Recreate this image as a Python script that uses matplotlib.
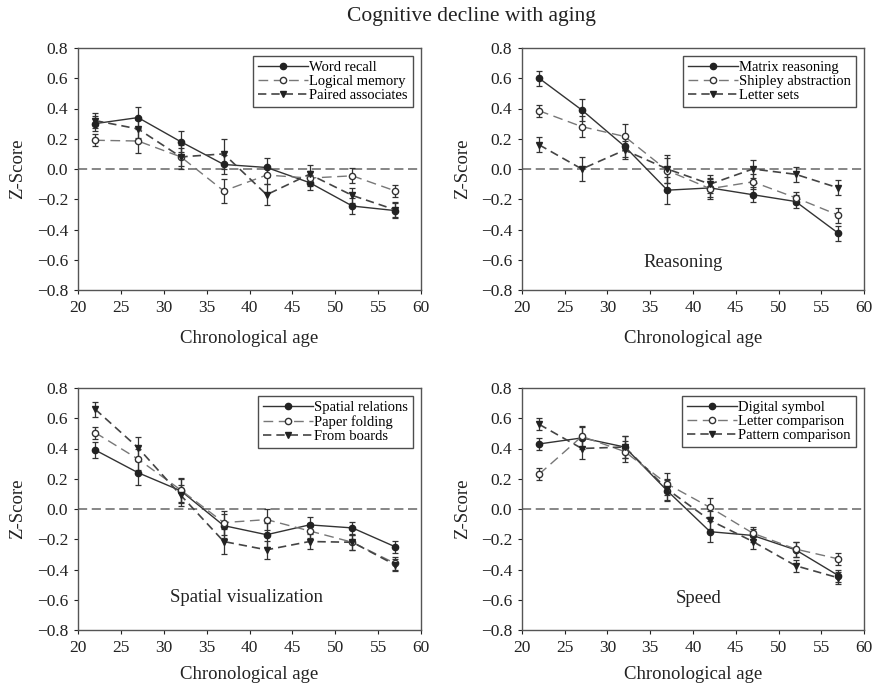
import matplotlib
matplotlib.use("Agg")
import matplotlib.pyplot as plt
from matplotlib.ticker import FuncFormatter
from matplotlib.lines import Line2D

plt.rcParams['font.family'] = ['Liberation Serif', 'DejaVu Serif']

ages = [22, 27, 32, 37, 42, 47, 52, 57]

title = "Cognitive decline with aging"
xlabel = "Chronological age"
ylabel = "Z-Score"

# Panel 1: memory
mem_names = ["Word recall", "Logical memory", "Paired associates"]
mem_word = [0.30, 0.34, 0.18, 0.03, 0.01, -0.09, -0.245, -0.275]
mem_word_err = [0.05, 0.07, 0.07, 0.06, 0.06, 0.05, 0.05, 0.05]
mem_logic = [0.19, 0.185, 0.08, -0.145, -0.04, -0.06, -0.045, -0.145]
mem_logic_err = [0.04, 0.08, 0.06, 0.08, 0.06, 0.05, 0.05, 0.04]
mem_paired = [0.32, 0.265, 0.08, 0.10, -0.17, -0.035, -0.175, -0.27]
mem_paired_err = [0.05, 0.06, 0.08, 0.10, 0.07, 0.06, 0.05, 0.05]

# Panel 2: reasoning
rea_names = ["Matrix reasoning", "Shipley abstraction", "Letter sets"]
rea_matrix = [0.60, 0.39, 0.15, -0.14, -0.125, -0.17, -0.215, -0.425]
rea_matrix_err = [0.05, 0.07, 0.07, 0.09, 0.06, 0.05, 0.04, 0.05]
rea_shipley = [0.385, 0.28, 0.215, -0.01, -0.13, -0.085, -0.19, -0.305]
rea_shipley_err = [0.04, 0.07, 0.08, 0.08, 0.07, 0.05, 0.04, 0.05]
rea_letter = [0.16, 0.0, 0.125, 0.0, -0.10, 0.0, -0.035, -0.125]
rea_letter_err = [0.05, 0.08, 0.06, 0.09, 0.06, 0.06, 0.05, 0.05]

# Panel 3: spatial visualization
spa_names = ["Spatial relations", "Paper folding", "From boards"]
spa_rel = [0.39, 0.24, 0.12, -0.11, -0.17, -0.105, -0.125, -0.25]
spa_rel_err = [0.05, 0.08, 0.08, 0.08, 0.08, 0.05, 0.04, 0.04]
spa_paper = [0.505, 0.33, 0.125, -0.09, -0.07, -0.145, -0.22, -0.36]
spa_paper_err = [0.04, 0.07, 0.08, 0.08, 0.07, 0.05, 0.05, 0.04]
spa_form = [0.66, 0.405, 0.09, -0.215, -0.27, -0.215, -0.22, -0.37]
spa_form_err = [0.05, 0.07, 0.07, 0.08, 0.06, 0.05, 0.05, 0.04]

# Panel 4: speed
spd_names = ["Digital symbol", "Letter comparison", "Pattern comparison"]
spd_digit = [0.43, 0.47, 0.41, 0.12, -0.15, -0.175, -0.27, -0.44]
spd_digit_err = [0.04, 0.07, 0.07, 0.07, 0.07, 0.04, 0.05, 0.04]
spd_letter = [0.23, 0.48, 0.38, 0.165, 0.01, -0.16, -0.265, -0.33]
spd_letter_err = [0.04, 0.07, 0.07, 0.07, 0.06, 0.04, 0.05, 0.04]
spd_pattern = [0.56, 0.40, 0.41, 0.13, -0.075, -0.215, -0.375, -0.455]
spd_pattern_err = [0.04, 0.07, 0.07, 0.07, 0.06, 0.05, 0.04, 0.04]

panel_labels = [None, "Reasoning", "Spatial visualization", "Speed"]
label_pos = [None, (38.8, -0.615), (39.7, -0.585), (40.7, -0.59)]

panels = [
    (mem_names, [(mem_word, mem_word_err), (mem_logic, mem_logic_err), (mem_paired, mem_paired_err)]),
    (rea_names, [(rea_matrix, rea_matrix_err), (rea_shipley, rea_shipley_err), (rea_letter, rea_letter_err)]),
    (spa_names, [(spa_rel, spa_rel_err), (spa_paper, spa_paper_err), (spa_form, spa_form_err)]),
    (spd_names, [(spd_digit, spd_digit_err), (spd_letter, spd_letter_err), (spd_pattern, spd_pattern_err)]),
]

styles = [
    dict(linestyle='-', marker='o', mfc='#222222', mec='#222222', color='#333333', lw=1.0),
    dict(linestyle=(0, (7, 4)), marker='o', mfc='white', mec='#333333', color='#777777', lw=1.0),
    dict(linestyle=(0, (5, 3)), marker='v', mfc='#222222', mec='#222222', color='#444444', lw=1.2),
]

W, H = 879, 685
fig = plt.figure(figsize=(W / 100, H / 100), dpi=100)

boxes = [
    (78, 48, 421, 290),
    (522, 48, 864, 290),
    (78, 388, 421, 630),
    (522, 388, 864, 630),
]
xlabel_y = [-0.165, -0.165, -0.15, -0.15]

fmt = FuncFormatter(lambda v, p: f"{v:.1f}".replace('-', '\u2212'))

for i, ((names, series), (x0, y0, x1, y1)) in enumerate(zip(panels, boxes)):
    ax = fig.add_axes([x0 / W, 1 - y1 / H, (x1 - x0) / W, (y1 - y0) / H])
    ax.axhline(0, color='#666666', lw=1.1, ls=(0, (6, 3)), zorder=1)
    handles = []
    for (vals, errs), name, st in zip(series, names, styles):
        ax.errorbar(ages, vals, yerr=errs, markersize=4.5,
                    capsize=2.5, elinewidth=0.9, capthick=0.9,
                    ecolor='#333333', zorder=3, **st)
        handles.append(Line2D([], [], markersize=4.5, label=name, **st))
    ax.set_xlim(20, 60)
    ax.set_ylim(-0.8, 0.8)
    ax.set_xticks(range(20, 61, 5))
    ax.set_yticks([-0.8, -0.6, -0.4, -0.2, 0.0, 0.2, 0.4, 0.6, 0.8])
    ax.yaxis.set_major_formatter(fmt)
    ax.tick_params(axis='both', direction='out', length=3, width=0.8,
                   labelsize=12.5, colors='#222222', pad=4)
    for sp in ax.spines.values():
        sp.set_color('#555555')
        sp.set_linewidth(1.0)
    ax.set_xlabel(xlabel, fontsize=13.5, color='#222222')
    ax.xaxis.set_label_coords(0.5, xlabel_y[i])
    ax.set_ylabel(ylabel, fontsize=13.5, color='#222222')
    ax.yaxis.set_label_coords(-0.15, 0.5)
    leg = ax.legend(handles=handles, loc='upper right', fontsize=10.5, handlelength=3.4,
                    frameon=True, fancybox=False, edgecolor='#222222',
                    borderpad=0.35, labelspacing=0.05, handletextpad=0.1,
                    borderaxespad=0.55)
    leg.get_frame().set_linewidth(1.0)
    if panel_labels[i]:
        lx, ly = label_pos[i]
        ax.text(lx, ly, panel_labels[i], ha='center', va='center', fontsize=13.5, color='#222222')

fig.text(471 / W, 1 - 16 / H, title, ha='center', va='center', fontsize=15.5, color='#222222')

fig.savefig("out.png", dpi=100)
